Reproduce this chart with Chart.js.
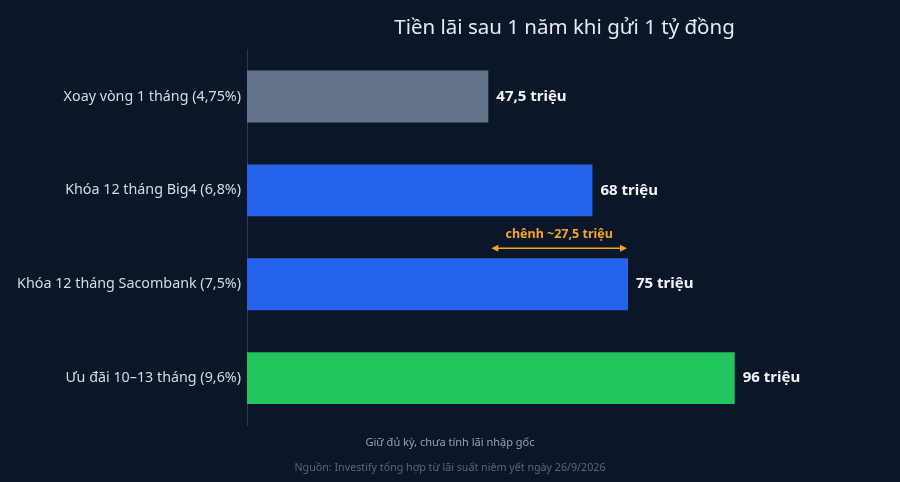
<!DOCTYPE html>
<html>
<head>
<meta charset="utf-8">
<script src="https://cdn.jsdelivr.net/npm/chart.js@4"></script>
<style>
  html, body { margin: 0; padding: 0; background: #0b1628; }
  #wrap { width: 900px; height: 482px; }
</style>
</head>
<body>
<div id="wrap"><canvas id="myChart"></canvas></div>
<script>
// dữ liệu
var v_labels = ["Xoay vòng 1 tháng (4,75%)", "Khóa 12 tháng Big4 (6,8%)", "Khóa 12 tháng Sacombank (7,5%)", "Ưu đãi 10–13 tháng (9,6%)"];
var v_values = [47.5, 68, 75, 96]; // triệu đồng
var v_colors = ["#64748b", "#2563eb", "#2563eb", "#22c55e"];
var v_gap = [47.5, 75]; // chênh lệch giữa xoay vòng và Sacombank
var v_gapText = "chênh ~27,5 triệu";
var v_title = "Tiền lãi sau 1 năm khi gửi 1 tỷ đồng";
var v_note = "Giữ đủ kỳ, chưa tính lãi nhập gốc";
var v_source = "Nguồn: Investify tổng hợp từ lãi suất niêm yết ngày 26/9/2026";

var FONT = "'Noto Sans', 'DejaVu Sans', sans-serif";

function f_fmt(p_v){
  return String(p_v).replace(".", ",") + " triệu";
}

// nhãn giá trị + mũi tên chênh lệch + chú thích dưới
var v_extra = {
  id: "extra",
  afterDatasetsDraw: function(chart){
    var ctx = chart.ctx;
    var meta = chart.getDatasetMeta(0);
    ctx.save();
    ctx.font = "bold 15px " + FONT;
    ctx.fillStyle = "#f1f5f9";
    ctx.textAlign = "left";
    ctx.textBaseline = "middle";
    for(var i=0; i<meta.data.length; i++){
      var bar = meta.data[i];
      ctx.fillText(f_fmt(v_values[i]), bar.x + 8, bar.y);
    }

    // mũi tên
    var xs = chart.scales.x;
    var x1 = xs.getPixelForValue(v_gap[0]) + 3;
    var x2 = xs.getPixelForValue(v_gap[1]) - 1;
    var b3 = meta.data[2];
    var yA = b3.y - b3.height/2 - 10;
    ctx.strokeStyle = "#f5a524";
    ctx.fillStyle = "#f5a524";
    ctx.lineWidth = 1.5;
    ctx.beginPath();
    ctx.moveTo(x1 + 3, yA);
    ctx.lineTo(x2 - 3, yA);
    ctx.stroke();
    ctx.beginPath();
    ctx.moveTo(x1, yA); ctx.lineTo(x1 + 7, yA - 3.5); ctx.lineTo(x1 + 7, yA + 3.5); ctx.closePath();
    ctx.fill();
    ctx.beginPath();
    ctx.moveTo(x2, yA); ctx.lineTo(x2 - 7, yA - 3.5); ctx.lineTo(x2 - 7, yA + 3.5); ctx.closePath();
    ctx.fill();
    ctx.font = "bold 12.5px " + FONT;
    ctx.textAlign = "center";
    ctx.fillText(v_gapText, (x1 + x2)/2, yA - 14);

    // chú thích
    ctx.font = "11px " + FONT;
    ctx.fillStyle = "#94a3b8";
    ctx.fillText(v_note, chart.width/2, 443);
    ctx.font = "10.7px " + FONT;
    ctx.fillStyle = "#5b6878";
    ctx.fillText(v_source, chart.width/2, 468);
    ctx.restore();
  }
};

var ctx = document.getElementById("myChart").getContext("2d");
var myChart = new Chart(ctx, {
  type: "bar",
  data: {
    labels: v_labels,
    datasets: [{
      data: v_values,
      backgroundColor: v_colors,
      borderWidth: 0,
      barPercentage: 0.553,
      categoryPercentage: 1
    }]
  },
  options: {
    indexAxis: "y",
    responsive: true,
    maintainAspectRatio: false,
    animation: false,
    layout: { padding: { left: 0, right: 18, bottom: 57 } },
    plugins: {
      legend: { display: false },
      tooltip: { enabled: false },
      title: {
        display: true,
        text: v_title,
        fullSize: false,
        color: "#e5ebf2",
        font: { family: FONT, size: 20.5, weight: "normal" },
        padding: { top: 16, bottom: 9 }
      }
    },
    scales: {
      x: {
        display: false,
        min: 0,
        max: 125
      },
      y: {
        afterFit: function(s){ s.width = 247; },
        grid: { display: false, drawTicks: false },
        border: { display: true, color: "#2b3a50", width: 1 },
        ticks: {
          color: "#d5dce5",
          padding: 6,
          font: { family: FONT, size: 14.3 }
        }
      }
    }
  },
  plugins: [v_extra]
});
</script>
</body>
</html>
